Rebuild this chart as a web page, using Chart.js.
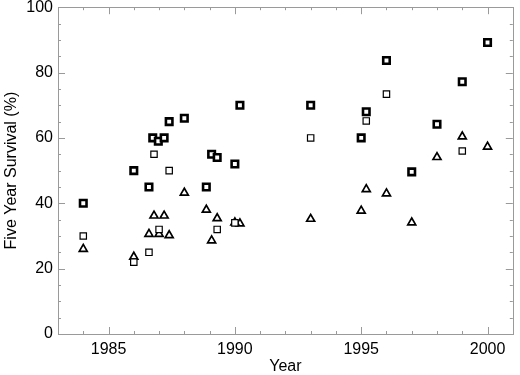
<!DOCTYPE html>
<html>
<head>
<meta charset="utf-8">
<script src="https://cdn.jsdelivr.net/npm/chart.js@4"></script>
<style>
  html, body { margin: 0; padding: 0; background: #fff; }
  #wrap { width: 520px; height: 375px; }
</style>
</head>
<body>
<div id="wrap"><canvas id="survival-chart"></canvas></div>
<script>
// Five year survival by year - three series

const boldYears = [1984, 1986, 1986.6, 1986.75, 1986.97, 1987.2, 1987.4, 1988, 1988.87, 1989.08, 1989.3, 1990, 1990.2, 1993, 1995, 1995.2, 1996, 1997, 1998, 1999, 2000];
const boldValues = [40, 50, 45, 60, 59, 60, 65, 66, 45, 55, 54, 52, 70, 70, 60, 68, 83.7, 49.6, 64.2, 77.2, 89.2];

const thinYears = [1984, 1986, 1986.6, 1986.8, 1987, 1987.4, 1989.3, 1990, 1993, 1995.2, 1996, 1999];
const thinValues = [30, 22, 25, 55, 32, 50, 32, 34, 60, 65.2, 73.4, 56];

const triYears = [1984, 1986, 1986.6, 1986.8, 1987, 1987.2, 1987.4, 1988, 1988.87, 1989.08, 1989.3, 1990, 1990.2, 1993, 1995, 1995.2, 1996, 1997, 1998, 1999, 2000];
const triValues = [26, 23.6, 30.6, 36.2, 30.6, 36.2, 30.2, 43.2, 38, 28.6, 35.4, 34.1, 33.8, 35.2, 37.7, 44.3, 43, 34.1, 54.1, 60.4, 57.3];

const xTickLabels = [1985, 1990, 1995, 2000];
const yTickLabels = [0, 20, 40, 60, 80, 100];

const pts = (xs, ys) => xs.map((x, i) => ({x: x, y: ys[i]}));

// inward tick marks on all four sides, IDL style
const frameTicks = {
  id: 'frameTicks',
  afterDraw(chart) {
    const ctx = chart.ctx;
    const a = chart.chartArea;
    const xs = chart.scales.x, ys = chart.scales.y;
    ctx.save();
    ctx.strokeStyle = '#9a9a9a';
    ctx.lineWidth = 1;
    ctx.beginPath();
    for (let v = xs.min; v <= xs.max; v++) {
      const p = Math.round(xs.getPixelForValue(v)) + 0.5;
      const len = v % 5 === 0 ? 7 : 3;
      ctx.moveTo(p, a.bottom); ctx.lineTo(p, a.bottom - len);
      ctx.moveTo(p, a.top); ctx.lineTo(p, a.top + len);
    }
    for (let v = ys.min; v <= ys.max; v += 5) {
      const p = Math.round(ys.getPixelForValue(v)) + 0.5;
      const len = v % 20 === 0 ? 7 : 3;
      ctx.moveTo(a.left, p); ctx.lineTo(a.left + len, p);
      ctx.moveTo(a.right, p); ctx.lineTo(a.right - len, p);
    }
    ctx.stroke();
    ctx.strokeRect(Math.round(a.left) + 0.5, Math.round(a.top) + 0.5,
      Math.round(a.right - a.left), Math.round(a.bottom - a.top));
    ctx.restore();
  }
};

const data = {
  datasets: [
    {
      label: 'bold squares',
      data: pts(boldYears, boldValues),
      pointStyle: 'rect',
      pointRadius: 4.6,
      borderWidth: 2.6,
      borderColor: '#000',
      backgroundColor: '#fff'
    },
    {
      label: 'squares',
      data: pts(thinYears, thinValues),
      pointStyle: 'rect',
      pointRadius: 4.5,
      borderWidth: 1.2,
      borderColor: '#000',
      backgroundColor: '#fff'
    },
    {
      label: 'triangles',
      data: pts(triYears, triValues),
      pointStyle: 'triangle',
      pointRadius: 4.6,
      borderWidth: 1.7,
      borderColor: '#000',
      backgroundColor: 'rgba(255,255,255,0)'
    }
  ]
};

const config = {
  type: 'scatter',
  data: data,
  options: {
    responsive: false,
    animation: false,
    layout: { padding: { top: 6, right: 4, left: 0, bottom: 0 } },
    plugins: {
      legend: { display: false },
      tooltip: { enabled: false }
    },
    scales: {
      x: {
        type: 'linear',
        min: 1983,
        max: 2001,
        border: { display: false },
        grid: { display: false, drawTicks: false },
        afterBuildTicks: (s) => { s.ticks = xTickLabels.map(v => ({value: v})); },
        ticks: {
          color: '#000',
          font: { family: 'Liberation Sans', size: 16 },
          maxRotation: 0,
          autoSkip: false,
          padding: 6,
          callback: (v) => String(v)
        },
        title: {
          display: true,
          text: 'Year',
          color: '#000',
          font: { family: 'Liberation Sans', size: 16 },
          padding: { top: 0, bottom: -1 }
        },
        afterFit: (s) => { s.height = 41; s.paddingLeft = 0; s.paddingRight = 0; }
      },
      y: {
        min: 0,
        max: 100,
        border: { display: false },
        grid: { display: false, drawTicks: false },
        afterBuildTicks: (s) => { s.ticks = yTickLabels.map(v => ({value: v})); },
        ticks: {
          color: '#000',
          font: { family: 'Liberation Sans', size: 16 },
          padding: 5
        },
        title: {
          display: true,
          text: 'Five Year Survival (%)',
          color: '#000',
          font: { family: 'Liberation Sans', size: 16 },
          padding: { top: 2, bottom: 4 }
        },
        afterFit: (s) => { s.width = 58; s.paddingTop = 0; s.paddingBottom = 0; }
      }
    }
  },
  plugins: [frameTicks]
};

const canvas = document.getElementById('survival-chart');
canvas.width = 520;
canvas.height = 375;
const survivalChart = new Chart(canvas, config);
</script>
</body>
</html>
